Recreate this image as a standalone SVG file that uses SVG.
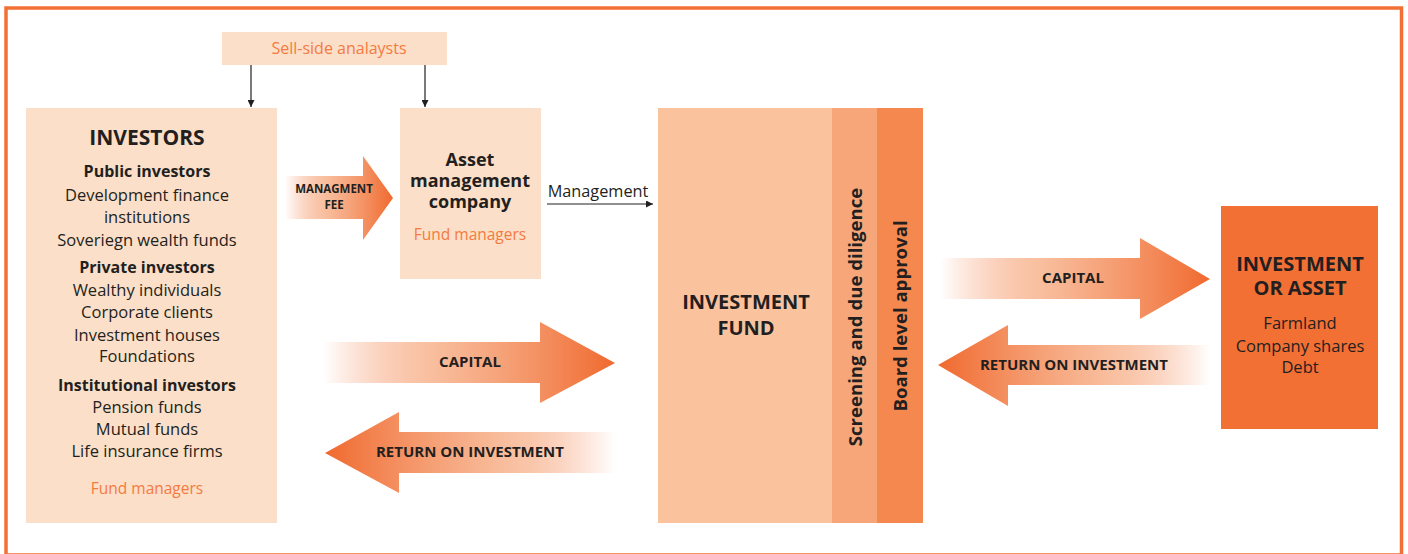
<svg xmlns="http://www.w3.org/2000/svg" width="1408" height="554" viewBox="0 0 1408 554">
<defs>
<style>
.t{font-family:"Open Sans","Liberation Sans",sans-serif;fill:#231f20;text-anchor:middle}
.b{font-weight:bold}
.o{fill:#f47b3f}
.lt{fill:#fcdfc8}
.cn{stroke:#231f20;stroke-width:1.2;fill:none}
</style>
<marker id="ah" viewBox="0 0 10 10" refX="10" refY="5" markerWidth="7" markerHeight="7" markerUnits="userSpaceOnUse" orient="auto">
<path d="M0,0 L10,5 L0,10 z" fill="#231f20"/>
</marker>
<linearGradient id="gr" x1="0" y1="0" x2="1" y2="0">
<stop offset="0" stop-color="#f37035" stop-opacity="0"/>
<stop offset="0.35" stop-color="#f6a679" stop-opacity="0.7"/>
<stop offset="1" stop-color="#f0692e"/>
</linearGradient>
<linearGradient id="gl" x1="1" y1="0" x2="0" y2="0">
<stop offset="0" stop-color="#f37035" stop-opacity="0"/>
<stop offset="0.35" stop-color="#f6a679" stop-opacity="0.7"/>
<stop offset="1" stop-color="#f0692e"/>
</linearGradient>
</defs>
<rect x="6" y="8" width="1395.5" height="547" fill="none" stroke="#f37035" stroke-width="3.5"/>

<g id="sellside">
<rect class="lt" x="222" y="32" width="225" height="33"/>
<text class="t o" x="339" y="54" font-size="16">Sell-side analaysts</text>
</g>

<g id="investors">
<rect class="lt" x="26" y="108" width="251" height="415"/>
<text class="t b" x="147" y="145" font-size="21">INVESTORS</text>
<text class="t b" x="147" y="177" font-size="16">Public investors</text>
<text class="t" x="147" y="201" font-size="16.5">Development finance</text>
<text class="t" x="147" y="223" font-size="16.5">institutions</text>
<text class="t" x="147" y="246" font-size="16.5">Soveriegn wealth funds</text>
<text class="t b" x="147" y="273" font-size="16">Private investors</text>
<text class="t" x="147" y="296" font-size="16.5">Wealthy individuals</text>
<text class="t" x="147" y="318" font-size="16.5">Corporate clients</text>
<text class="t" x="147" y="341" font-size="16.5">Investment houses</text>
<text class="t" x="147" y="362" font-size="16.5">Foundations</text>
<text class="t b" x="147" y="391" font-size="16">Institutional investors</text>
<text class="t" x="147" y="413" font-size="16.5">Pension funds</text>
<text class="t" x="147" y="435" font-size="16.5">Mutual funds</text>
<text class="t" x="147" y="457" font-size="16.5">Life insurance firms</text>
<text class="t o" x="147" y="494" font-size="15.5">Fund managers</text>
</g>

<g id="assetmgmt">
<rect class="lt" x="400" y="108" width="141" height="171"/>
<text class="t b" x="470" y="166" font-size="18">Asset</text>
<text class="t b" x="470" y="187" font-size="18">management</text>
<text class="t b" x="470" y="208" font-size="18">company</text>
<text class="t o" x="470" y="240" font-size="15.5">Fund managers</text>
</g>

<g id="fund">
<rect x="658" y="108" width="174" height="415" fill="#fac39e"/>
<rect x="832" y="108" width="45" height="415" fill="#f6a679"/>
<rect x="877" y="108" width="46" height="415" fill="#f4884f"/>
<text class="t b" x="746" y="309" font-size="20">INVESTMENT</text>
<text class="t b" x="746" y="335" font-size="20">FUND</text>
<text class="t b" transform="translate(862,317) rotate(-90)" font-size="18.6">Screening and due diligence</text>
<text class="t b" transform="translate(907,316) rotate(-90)" font-size="18.6">Board level approval</text>
</g>

<g id="asset">
<rect x="1221" y="206" width="157" height="223" fill="#f37035"/>
<text class="t b" x="1300" y="271" font-size="20">INVESTMENT</text>
<text class="t b" x="1300" y="295" font-size="20">OR ASSET</text>
<text class="t" x="1300" y="329" font-size="16.5">Farmland</text>
<text class="t" x="1300" y="352" font-size="16.5">Company shares</text>
<text class="t" x="1300" y="373" font-size="16.5">Debt</text>
</g>

<g id="connectors">
<line class="cn" x1="251" y1="65" x2="251" y2="107" marker-end="url(#ah)"/>
<line class="cn" x1="425" y1="65" x2="425" y2="107" marker-end="url(#ah)"/>
<line class="cn" x1="547" y1="204" x2="653" y2="204" marker-end="url(#ah)"/>
<text class="t" x="598" y="197" font-size="16.3">Management</text>

<path d="M285,176 L363,176 L363,156 L393,198 L363,240 L363,219 L285,219 z" fill="url(#gr)"/>
<text class="t b" x="334" y="193" font-size="11.5">MANAGMENT</text>
<text class="t b" x="334" y="209" font-size="11.5">FEE</text>

<path d="M323,342 L540,342 L540,322 L615,363 L540,403 L540,383 L323,383 z" fill="url(#gr)"/>
<text class="t b" x="470" y="367" font-size="15">CAPITAL</text>

<path d="M615,432 L399,432 L399,412 L325,453 L399,493 L399,473 L615,473 z" fill="url(#gl)"/>
<text class="t b" x="470" y="457" font-size="15">RETURN ON INVESTMENT</text>

<path d="M940,258 L1140,258 L1140,238 L1210,279 L1140,319 L1140,299 L940,299 z" fill="url(#gr)"/>
<text class="t b" x="1073" y="283" font-size="15">CAPITAL</text>

<path d="M1210,345 L1008,345 L1008,325 L938,365 L1008,406 L1008,385 L1210,385 z" fill="url(#gl)"/>
<text class="t b" x="1074" y="370" font-size="15">RETURN ON INVESTMENT</text>
</g>
</svg>
